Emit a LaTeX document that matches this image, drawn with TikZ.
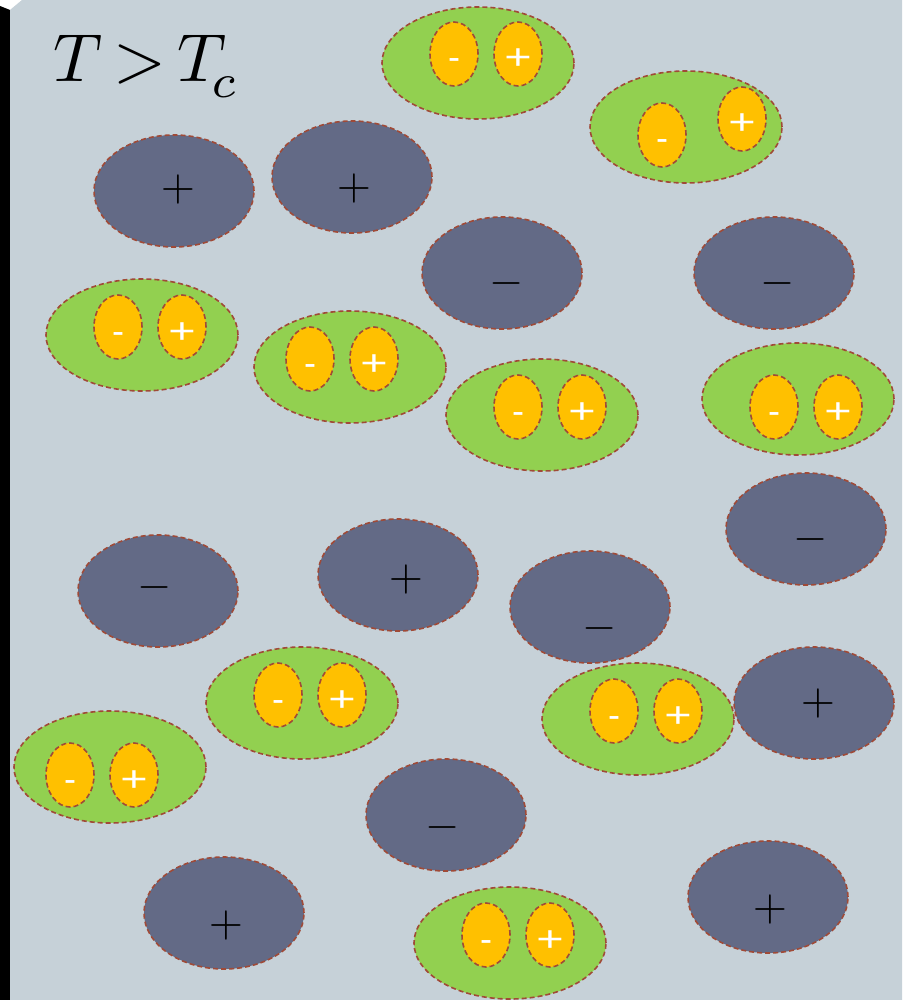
\documentclass[tikz,border=0pt]{standalone}
\usepackage{fontspec}
\usepackage{graphicx}
\usetikzlibrary{shapes.geometric}
\newfontfamily\chargefont{Liberation Sans}
\definecolor{slab}{HTML}{C6D1D8}
\definecolor{ionblue}{HTML}{636A86}
\definecolor{pairgreen}{HTML}{92D050}
\definecolor{chargeorange}{HTML}{FFC000}
\definecolor{rim}{HTML}{A04A37}
\begin{document}
\begin{tikzpicture}[x=1pt, y=-1pt,
    rimline/.style={draw=rim, line width=1.6pt, dash pattern=on 5pt off 3pt},
    ion/.style={ellipse, rimline, fill=ionblue, minimum width=160pt, minimum height=112pt, inner sep=0pt},
    ionsign/.style={inner sep=0pt},
    pair/.style={ellipse, rimline, fill=pairgreen, minimum width=192pt, minimum height=112pt, inner sep=0pt},
    charge/.style={ellipse, rimline, fill=chargeorange, minimum width=48pt, minimum height=64pt, inner sep=0pt,
      text=white, text height=32pt, text depth=0pt, font=\chargefont\fontsize{36}{36}\selectfont}]
  % slab and edge
  \fill[white] (0,0) rectangle (902,1000);
  \fill[black] (0,6) -- (10,10) -- (10,1000) -- (0,1000) -- cycle;
  \fill[slab] (10,10) -- (22,0) -- (902,0) -- (902,1000) -- (10,1000) -- cycle;
  \useasboundingbox (0,0) rectangle (902,1000);

  \node[anchor=base west, inner sep=0pt] (temp) at (53,82)
    {\scalebox{6.8}{$T\,{>}\,T_{\mkern-2mu\lower0.8pt\hbox{$\scriptstyle c$}}$}};

  % free ions
  \foreach \n/\x/\y/\s/\sx/\sy in {1/174/191/+/178/190, 2/352/177/+/354/189, 3/502/273/-/507/283,
      4/774/273/-/778/283, 5/158/591/-/155/587, 6/398/575/+/406/579, 7/590/607/-/600/628,
      8/806/529/-/811/539, 9/814/703/+/818/703, 10/446/815/-/443/827, 11/224/913/+/226/925,
      12/768/897/+/770/909} {
    \node[ion] (ion\n) at (\x,\y) {};
    \node[ionsign] (ionsign\n) at (\sx,\sy) {\scalebox{4.4}{$\s$}};
  }

  % bound pairs
  \foreach \n/\x/\y/\ax/\ay/\bx/\by in {1/478/63/454/54/518/54, 2/686/127/662/135/742/119,
      3/142/335/118/327/182/327, 4/350/367/310/359/374/359, 5/542/415/518/407/582/407,
      6/798/399/774/407/838/407, 7/302/703/278/695/342/695, 8/638/719/614/711/678/711,
      9/110/767/70/775/134/775, 10/510/943/486/935/550/935} {
    \node[pair] (pair\n) at (\x,\y) {};
    \node[charge] (neg\n) at (\ax,\ay) {-};
    \node[charge] (pos\n) at (\bx,\by) {\scalebox{1.3}[1]{+}};
  }
\end{tikzpicture}
\end{document}
